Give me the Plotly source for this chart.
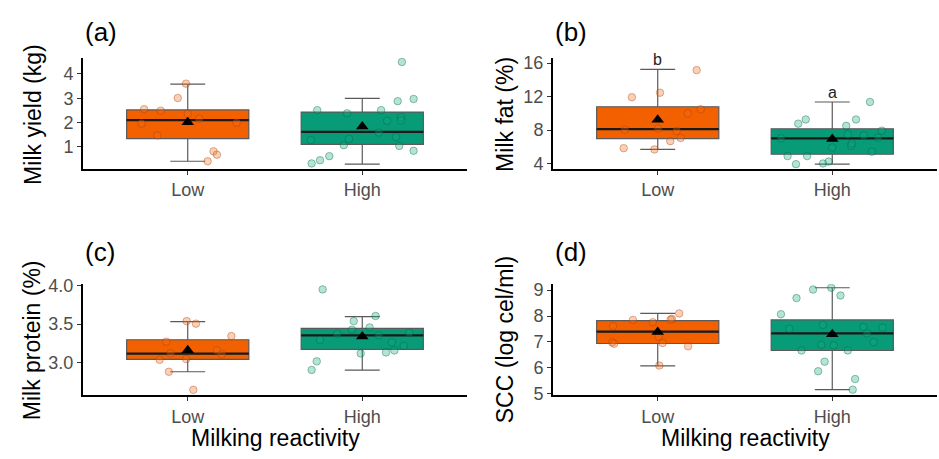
import plotly.graph_objects as go

# ---------------- data ----------------
groups = ["Low", "High"]
group_pos = [1, 2]

# (a) Milk yield (kg)
a_low = [2.55, 2.49, 1.96, 1.47, 3.01, 3.60, 2.36, 2.16, 1.99, 0.82, 0.68, 0.41]
a_low_jit = [-0.25, -0.155, -0.265, -0.174, -0.057, -0.01, 0.0, 0.066, 0.28, 0.148, 0.167, 0.114]
a_high = [2.51, 2.38, 1.28, 1.07, 1.33, 0.32, 0.45, 0.62, 2.51, 2.07, 1.59, 2.88, 2.22, 2.09, 1.41, 1.04, 0.84, 2.97, 4.49]
a_high_jit = [-0.258, -0.087, -0.295, -0.106, -0.076, -0.29, -0.242, -0.189, 0.108, 0.142, 0.095, 0.203, 0.222, 0.222, 0.193, 0.212, 0.294, 0.294, 0.227]
a_q1 = [1.34, 1.10]
a_median = [2.10, 1.62]
a_q3 = [2.52, 2.43]
a_lower = [0.41, 0.29]
a_upper = [3.58, 2.99]
a_mean = [2.01, 1.84]

# (b) Milk fat (%)
b_low = [11.92, 12.46, 15.16, 9.98, 10.48, 8.04, 8.19, 7.89, 7.05, 6.67, 5.83, 5.68]
b_low_jit = [-0.148, 0.013, 0.223, 0.172, 0.246, -0.189, 0.002, 0.108, 0.131, 0.072, -0.195, -0.019]
b_high = [8.76, 9.26, 7.01, 4.88, 4.88, 3.92, 4.00, 4.23, 5.90, 8.50, 7.50, 6.10, 6.40, 9.26, 7.35, 7.09, 7.92, 5.41, 11.35]
b_high_jit = [-0.195, -0.152, -0.294, -0.256, -0.144, -0.208, -0.053, -0.021, 0.0, 0.08, 0.089, 0.108, 0.112, 0.136, 0.18, 0.263, 0.284, 0.227, 0.216]
b_q1 = [6.97, 5.10]
b_median = [8.11, 7.01]
b_q3 = [10.78, 8.15]
b_lower = [5.68, 3.92]
b_upper = [15.24, 11.35]
b_mean = [9.22, 6.93]
b_letters = ["b", "a"]

# (c) Milk protein (%)
c_low = [3.539, 3.506, 3.27, 3.344, 3.116, 3.033, 3.042, 3.158, 3.104, 2.876, 2.639]
c_low_jit = [-0.006, 0.047, -0.123, 0.25, -0.098, -0.161, -0.009, 0.167, 0.195, -0.108, 0.032]
c_high = [3.954, 3.606, 3.539, 3.456, 3.427, 3.373, 3.353, 3.386, 3.29, 3.261, 3.212, 3.116, 3.129, 3.154, 3.012, 2.90]
c_high_jit = [-0.227, 0.076, -0.049, 0.042, -0.059, -0.144, 0.095, 0.269, -0.242, 0.17, 0.237, -0.009, 0.136, 0.184, -0.261, -0.29]
c_q1 = [3.037, 3.17]
c_median = [3.112, 3.353]
c_q3 = [3.295, 3.444]
c_lower = [2.876, 2.896]
c_upper = [3.531, 3.598]
c_mean = [3.158, 3.336]

# (d) SCC (log cel/ml)
d_low = [7.61, 7.85, 7.76, 7.89, 7.86, 8.10, 6.98, 6.93, 7.20, 6.96, 6.83, 6.09]
d_low_jit = [-0.256, -0.142, -0.028, 0.081, 0.074, 0.123, -0.261, -0.25, 0.006, 0.028, 0.174, 0.009]
d_high = [8.07, 8.69, 9.02, 9.09, 8.79, 7.51, 7.66, 6.67, 6.89, 6.87, 6.67, 6.24, 5.87, 5.57, 5.16, 7.58, 7.33, 6.99, 7.55]
d_high_jit = [-0.294, -0.205, -0.11, -0.006, 0.047, -0.246, -0.053, -0.176, -0.063, 0.009, 0.089, -0.044, -0.081, 0.131, 0.117, 0.178, 0.199, 0.237, 0.288]
d_q1 = [6.94, 6.67]
d_median = [7.40, 7.33]
d_q3 = [7.82, 7.85]
d_lower = [6.08, 5.16]
d_upper = [8.10, 9.09]
d_mean = [7.38, 7.30]

# ---------------- styling ----------------
FONT = "Liberation Sans, Arial, sans-serif"
box_fill = ["#F26000", "#079B78"]
pt_fill = ["rgba(242,110,30,0.32)", "rgba(20,170,128,0.32)"]
pt_line = ["rgba(160,60,0,0.38)", "rgba(0,95,68,0.38)"]
BOX_W = 0.7

fig = go.Figure()

panels = [
    dict(key="a", xa="x", ya="y", low=a_low, lj=a_low_jit, high=a_high, hj=a_high_jit,
         q1=a_q1, med=a_median, q3=a_q3, lo=a_lower, up=a_upper, mean=a_mean),
    dict(key="b", xa="x2", ya="y2", low=b_low, lj=b_low_jit, high=b_high, hj=b_high_jit,
         q1=b_q1, med=b_median, q3=b_q3, lo=b_lower, up=b_upper, mean=b_mean),
    dict(key="c", xa="x3", ya="y3", low=c_low, lj=c_low_jit, high=c_high, hj=c_high_jit,
         q1=c_q1, med=c_median, q3=c_q3, lo=c_lower, up=c_upper, mean=c_mean),
    dict(key="d", xa="x4", ya="y4", low=d_low, lj=d_low_jit, high=d_high, hj=d_high_jit,
         q1=d_q1, med=d_median, q3=d_q3, lo=d_lower, up=d_upper, mean=d_mean),
]

for p in panels:
    for gi in range(2):
        pos = group_pos[gi]
        fig.add_trace(go.Box(
            x=[pos], q1=[p["q1"][gi]], median=[p["med"][gi]], q3=[p["q3"][gi]],
            lowerfence=[p["lo"][gi]], upperfence=[p["up"][gi]],
            width=BOX_W, whiskerwidth=0.2 / BOX_W, boxpoints=False,
            fillcolor=box_fill[gi], line=dict(color="#5a5a5a", width=1.2),
            xaxis=p["xa"], yaxis=p["ya"], showlegend=False, hoverinfo="skip"))
        fig.add_trace(go.Scatter(
            x=[pos - BOX_W / 2, pos + BOX_W / 2], y=[p["med"][gi]] * 2, mode="lines",
            line=dict(color="#1a1a1a", width=2.2), xaxis=p["xa"], yaxis=p["ya"],
            showlegend=False, hoverinfo="skip"))
    for gi, (vals, jit) in enumerate([(p["low"], p["lj"]), (p["high"], p["hj"])]):
        fig.add_trace(go.Scatter(
            x=[group_pos[gi] + j for j in jit], y=vals, mode="markers",
            marker=dict(size=7.5, color=pt_fill[gi], line=dict(color=pt_line[gi], width=1)),
            xaxis=p["xa"], yaxis=p["ya"], showlegend=False, hoverinfo="skip"))
    fig.add_trace(go.Scatter(
        x=group_pos, y=p["mean"], mode="markers",
        marker=dict(symbol="triangle-up", size=11, color="black"),
        xaxis=p["xa"], yaxis=p["ya"], showlegend=False, hoverinfo="skip"))

W, H = 939, 459
xl = [83 / W, 467 / W]
xr = [553 / W, 937 / W]
yt = [1 - 167 / H, 1 - 52 / H]
yb = [1 - 402 / H, 1 - 287 / H]

def xax(domain, anchor):
    return dict(domain=domain, anchor=anchor, range=[0.4, 2.6], tickmode="array",
                tickvals=group_pos, ticktext=groups, showline=True, linecolor="black",
                linewidth=2, ticks="outside", ticklen=4, tickwidth=1.2, tickcolor="#333333",
                tickfont=dict(size=18, color="#4d4d4d", family=FONT),
                showgrid=False, zeroline=False)

def yax(domain, anchor, rng, tv, tt):
    return dict(domain=domain, anchor=anchor, range=rng, tickmode="array",
                tickvals=tv, ticktext=tt, showline=True, linecolor="black",
                linewidth=2, ticks="outside", ticklen=4, tickwidth=1.2, tickcolor="#333333",
                tickfont=dict(size=18, color="#4d4d4d", family=FONT),
                showgrid=False, zeroline=False)

fig.update_layout(
    width=W, height=H, margin=dict(l=0, r=0, t=0, b=0),
    paper_bgcolor="white", plot_bgcolor="white", boxmode="overlay",
    font=dict(family=FONT),
    xaxis=xax(xl, "y"), yaxis=yax(yt, "x", [0.1, 4.65], [1, 2, 3, 4], ["1", "2", "3", "4"]),
    xaxis2=xax(xr, "y2"), yaxis2=yax(yt, "x2", [3.36, 16.6], [4, 8, 12, 16], ["4", "8", "12", "16"]),
    xaxis3=xax(xl, "y3"), yaxis3=yax(yb, "x3", [2.57, 4.02], [3.0, 3.5, 4.0], ["3.0", "3.5", "4.0"]),
    xaxis4=xax(xr, "y4"), yaxis4=yax(yb, "x4", [4.95, 9.22], [5, 6, 7, 8, 9], ["5", "6", "7", "8", "9"]),
)

ann = []
# panel labels
for lab, x, y in [("(a)", 83, 25), ("(b)", 553, 25), ("(c)", 83, 253), ("(d)", 553, 253)]:
    ann.append(dict(text=lab, xref="paper", yref="paper", x=x / W, y=1 - y / H,
                    xanchor="left", yanchor="middle", showarrow=False,
                    font=dict(size=26, color="black", family=FONT)))
# y titles
for t, x, y in [("Milk yield (kg)", 33, 111), ("Milk fat (%)", 505, 111),
                ("Milk protein (%)", 32, 345), ("SCC (log cel/ml)", 505, 345)]:
    ann.append(dict(text=t, xref="paper", yref="paper", x=x / W, y=1 - y / H,
                    xanchor="center", yanchor="middle", textangle=-90, showarrow=False,
                    font=dict(size=23, color="black", family=FONT)))
# x titles
for x in [(83 + 467) / 2, (553 + 937) / 2]:
    ann.append(dict(text="Milking reactivity", xref="paper", yref="paper", x=x / W,
                    y=1 - 447 / H, xanchor="center", yanchor="middle", showarrow=False,
                    font=dict(size=23, color="black", family=FONT)))
# significance letters on panel b
for gi in range(2):
    ann.append(dict(text=b_letters[gi], xref="x2", yref="y2", x=group_pos[gi], y=b_upper[gi],
                    xanchor="center", yanchor="bottom", showarrow=False, yshift=-1,
                    font=dict(size=16, color="#222222", family=FONT)))
fig.update_layout(annotations=ann)

fig.write_html("out.html")
